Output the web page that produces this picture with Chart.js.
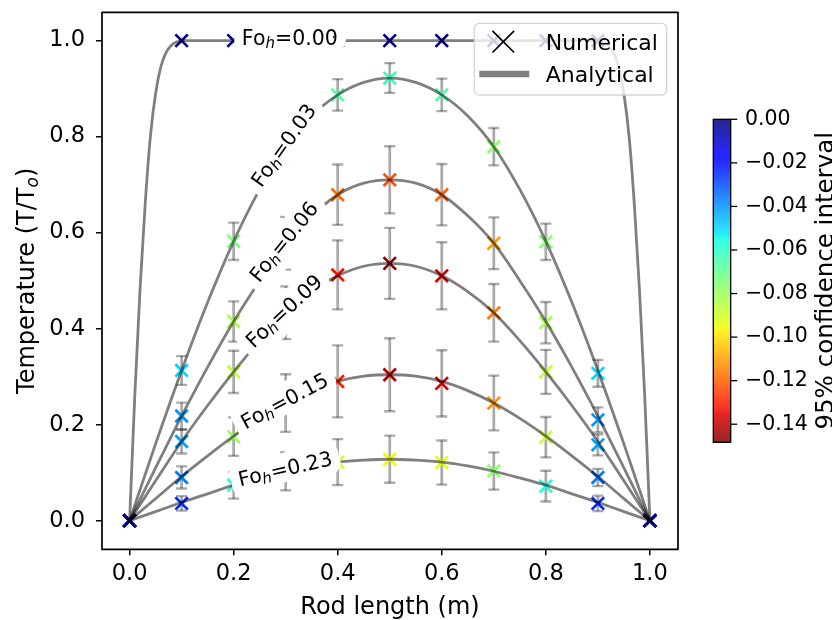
<!DOCTYPE html>
<html>
<head>
<meta charset="utf-8">
<script src="https://cdn.jsdelivr.net/npm/chart.js@4.4.0/dist/chart.umd.min.js"></script>
<style>
  html, body { margin: 0; padding: 0; background: #fff; }
  canvas { display: block; }
</style>
</head>
<body>
<canvas id="rodChart" width="832" height="620"></canvas>
<script>
// nodes along the rod where the solver reports a temperature
const nodeX = [0, 0.1, 0.2, 0.3, 0.4, 0.5, 0.6, 0.7, 0.8, 0.9, 1.0];

const fourierLabels = ['0.00', '0.03', '0.06', '0.09', '0.15', '0.23'];
const labelX = [0.308, 0.3, 0.3, 0.3, 0.3, 0.3];

// numerical solution (T/To) at each node
const numFo000 = [0, 1, 1, 1, 1, 1, 1, 1, 1, 1, 0];
const numFo003 = [0, 0.313, 0.582, 0.78, 0.887, 0.922, 0.887, 0.779, 0.581, 0.307, 0];
const numFo006 = [0, 0.218, 0.415, 0.578, 0.679, 0.71, 0.679, 0.578, 0.4125, 0.21, 0];
const numFo009 = [0, 0.165, 0.31, 0.433, 0.512, 0.536, 0.51, 0.433, 0.31, 0.158, 0];
const numFo015 = [0, 0.09, 0.175, 0.245, 0.29, 0.304, 0.286, 0.245, 0.174, 0.09, 0];
const numFo023 = [0, 0.036, 0.074, 0.103, 0.122, 0.128, 0.121, 0.1035, 0.072, 0.036, 0];

// half width of the error bars
const errFo000 = [0, 0, 0, 0, 0, 0, 0, 0, 0, 0, 0];
const errFo003 = [0, 0.03, 0.039, 0.04, 0.033, 0.031, 0.034, 0.039, 0.038, 0.028, 0];
const errFo006 = [0, 0.028, 0.042, 0.055, 0.063, 0.07, 0.064, 0.054, 0.043, 0.026, 0];
const errFo009 = [0, 0.025, 0.044, 0.055, 0.072, 0.074, 0.07, 0.06, 0.046, 0.022, 0];
const errFo015 = [0, 0.023, 0.04, 0.06, 0.075, 0.076, 0.069, 0.057, 0.042, 0.018, 0];
const errFo023 = [0, 0.015, 0.028, 0.04, 0.048, 0.049, 0.046, 0.039, 0.032, 0.016, 0];

// 95% confidence interval value used to colour each marker
const ciFo000 = [0, 0, 0, 0, 0, 0, 0, 0, 0, 0, 0];
const ciFo003 = [0, -0.049, -0.074, -0.075, -0.067, -0.062, -0.066, -0.077, -0.076, -0.05, 0];
const ciFo006 = [0, -0.04, -0.083, -0.11, -0.118, -0.123, -0.12, -0.11, -0.082, -0.04, 0];
const ciFo009 = [0, -0.042, -0.086, -0.115, -0.133, -0.147, -0.137, -0.116, -0.086, -0.042, 0];
const ciFo015 = [0, -0.037, -0.08, -0.11, -0.13, -0.142, -0.138, -0.112, -0.088, -0.036, 0];
const ciFo023 = [0, -0.025, -0.057, -0.077, -0.09, -0.095, -0.092, -0.077, -0.057, -0.025, 0];

// analytical solution
const curveXFine = [0, 0.01, 0.02, 0.03, 0.04, 0.05, 0.06, 0.07, 0.08, 0.09, 0.1,
  0.2, 0.3, 0.4, 0.5, 0.6, 0.7, 0.8, 0.9,
  0.91, 0.92, 0.93, 0.94, 0.95, 0.96, 0.97, 0.98, 0.99, 1.0];
const anaFo000 = [0, 0.26, 0.48, 0.66, 0.80, 0.89, 0.945, 0.975, 0.99, 0.997, 1,
  1, 1, 1, 1, 1, 1, 1, 1,
  0.997, 0.99, 0.975, 0.945, 0.89, 0.80, 0.66, 0.48, 0.26, 0];

const curveX = [0, 0.05, 0.1, 0.15, 0.2, 0.25, 0.3, 0.35, 0.4, 0.45, 0.5,
  0.55, 0.6, 0.65, 0.7, 0.75, 0.8, 0.85, 0.9, 0.95, 1.0];
const anaFo003 = [0, 0.16, 0.313, 0.455, 0.582, 0.69, 0.779, 0.843, 0.887, 0.913, 0.922,
  0.913, 0.887, 0.843, 0.779, 0.69, 0.582, 0.455, 0.313, 0.16, 0];
const anaFo006 = [0, 0.11, 0.218, 0.32, 0.415, 0.50, 0.578, 0.635, 0.679, 0.703, 0.71,
  0.703, 0.679, 0.635, 0.578, 0.50, 0.415, 0.32, 0.218, 0.11, 0];
const anaFo009 = [0, 0.083, 0.165, 0.24, 0.31, 0.375, 0.433, 0.477, 0.51, 0.53, 0.536,
  0.53, 0.51, 0.477, 0.433, 0.375, 0.31, 0.24, 0.165, 0.083, 0];
const anaFo015 = [0, 0.046, 0.092, 0.135, 0.176, 0.213, 0.245, 0.271, 0.29, 0.301, 0.304,
  0.301, 0.29, 0.271, 0.245, 0.213, 0.176, 0.135, 0.092, 0.046, 0];
const anaFo023 = [0, 0.019, 0.038, 0.056, 0.074, 0.089, 0.103, 0.114, 0.122, 0.126, 0.128,
  0.126, 0.122, 0.114, 0.103, 0.089, 0.074, 0.056, 0.038, 0.019, 0];

const xTicks = [0, 0.2, 0.4, 0.6, 0.8, 1.0];
const yTicks = [0, 0.2, 0.4, 0.6, 0.8, 1.0];
const ciTicks = [0, -0.02, -0.04, -0.06, -0.08, -0.10, -0.12, -0.14];
const ciMin = -0.1483;
const ciMax = 0;

const FONT = "'DejaVu Sans', 'Liberation Sans', sans-serif";

const numericalSeries = [
  { values: numFo000, errors: errFo000, ci: ciFo000 },
  { values: numFo003, errors: errFo003, ci: ciFo003 },
  { values: numFo006, errors: errFo006, ci: ciFo006 },
  { values: numFo009, errors: errFo009, ci: ciFo009 },
  { values: numFo015, errors: errFo015, ci: ciFo015 },
  { values: numFo023, errors: errFo023, ci: ciFo023 },
];

const analyticalSeries = [
  { xs: curveXFine, ys: anaFo000 },
  { xs: curveX, ys: anaFo003 },
  { xs: curveX, ys: anaFo006 },
  { xs: curveX, ys: anaFo009 },
  { xs: curveX, ys: anaFo015 },
  { xs: curveX, ys: anaFo023 },
];

// matplotlib "jet" segment data
const jetRed = [[0, 0], [0.35, 0], [0.66, 1], [0.89, 1], [1, 0.5]];
const jetGreen = [[0, 0], [0.125, 0], [0.375, 1], [0.64, 1], [0.91, 0], [1, 0]];
const jetBlue = [[0, 0.5], [0.11, 1], [0.34, 1], [0.65, 0], [1, 0]];

function segment(t, table) {
  for (let i = 1; i < table.length; i++) {
    if (t <= table[i][0]) {
      const [t0, v0] = table[i - 1];
      const [t1, v1] = table[i];
      return v0 + (v1 - v0) * (t - t0) / (t1 - t0);
    }
  }
  return table[table.length - 1][1];
}

function jet(t) {
  t = Math.min(1, Math.max(0, t));
  const r = Math.round(255 * segment(t, jetRed));
  const g = Math.round(255 * segment(t, jetGreen));
  const b = Math.round(255 * segment(t, jetBlue));
  return `rgb(${r},${g},${b})`;
}

// 0 is dark blue at the top of the bar, the lowest value dark red
const ciColor = v => jet((ciMax - v) / (ciMax - ciMin));

function valueAt(xs, ys, xq) {
  for (let i = 1; i < xs.length; i++) {
    if (xq <= xs[i]) {
      const f = (xq - xs[i - 1]) / (xs[i] - xs[i - 1]);
      return ys[i - 1] + f * (ys[i] - ys[i - 1]);
    }
  }
  return ys[ys.length - 1];
}

// draws runs of text (with sub-scripts) centred on 0, baseline at 0
function drawRuns(ctx, runs, outline) {
  const widths = runs.map(r => {
    ctx.font = `${r.italic ? 'italic ' : ''}${r.size}px ${FONT}`;
    return ctx.measureText(r.text).width;
  });
  const total = widths.reduce((a, b) => a + b, 0);
  const passes = outline ? ['stroke', 'fill'] : ['fill'];
  passes.forEach(pass => {
    let cx = -total / 2;
    runs.forEach((r, i) => {
      ctx.font = `${r.italic ? 'italic ' : ''}${r.size}px ${FONT}`;
      if (pass === 'stroke') {
        ctx.strokeText(r.text, cx, r.shift || 0);
      } else {
        ctx.fillText(r.text, cx, r.shift || 0);
      }
      cx += widths[i];
    });
  });
}

const errorBars = {
  id: 'errorBars',
  beforeDatasetsDraw(chart) {
    const { ctx, scales: { x, y } } = chart;
    ctx.save();
    ctx.strokeStyle = 'rgba(0,0,0,0.33)';
    numericalSeries.forEach(s => {
      s.values.forEach((v, i) => {
        const e = s.errors[i];
        if (!e) return;
        const px = x.getPixelForValue(nodeX[i]);
        const top = y.getPixelForValue(v + e);
        const bot = y.getPixelForValue(v - e);
        ctx.lineWidth = 2.8;
        ctx.beginPath();
        ctx.moveTo(px, top);
        ctx.lineTo(px, bot);
        ctx.stroke();
        ctx.lineWidth = 2.3;
        ctx.beginPath();
        ctx.moveTo(px - 5.5, top);
        ctx.lineTo(px + 5.5, top);
        ctx.moveTo(px - 5.5, bot);
        ctx.lineTo(px + 5.5, bot);
        ctx.stroke();
      });
    });
    ctx.restore();
  }
};

const curveLabels = {
  id: 'curveLabels',
  afterDatasetsDraw(chart) {
    const { ctx, scales: { x, y }, chartArea } = chart;
    ctx.save();
    ctx.textBaseline = 'alphabetic';
    ctx.lineJoin = 'round';
    ctx.lineWidth = 19;
    ctx.strokeStyle = '#ffffff';
    ctx.fillStyle = '#000000';
    analyticalSeries.forEach((c, k) => {
      const lx = labelX[k];
      const ax = x.getPixelForValue(lx);
      const ay = y.getPixelForValue(valueAt(c.xs, c.ys, lx));
      const x0 = x.getPixelForValue(lx - 0.05);
      const y0 = y.getPixelForValue(valueAt(c.xs, c.ys, lx - 0.05));
      const x1 = x.getPixelForValue(lx + 0.05);
      const y1 = y.getPixelForValue(valueAt(c.xs, c.ys, lx + 0.05));
      const angle = Math.atan2(y1 - y0, x1 - x0);
      ctx.save();
      ctx.translate(ax, ay);
      ctx.rotate(angle);
      ctx.translate(0, 4.5);
      drawRuns(ctx, [
        { text: 'Fo', size: 20.5 },
        { text: 'h', size: 15, italic: true, shift: 3 },
        { text: '=' + fourierLabels[k], size: 20.5 },
      ], true);
      ctx.restore();
    });
    // axes frame
    ctx.strokeStyle = '#000000';
    ctx.lineWidth = 1.7;
    ctx.strokeRect(chartArea.left, chartArea.top,
      chartArea.right - chartArea.left, chartArea.bottom - chartArea.top);
    ctx.restore();
  }
};

function roundedBox(ctx, x, y, w, h, r) {
  ctx.beginPath();
  ctx.moveTo(x + r, y);
  ctx.lineTo(x + w - r, y);
  ctx.arcTo(x + w, y, x + w, y + r, r);
  ctx.lineTo(x + w, y + h - r);
  ctx.arcTo(x + w, y + h, x + w - r, y + h, r);
  ctx.lineTo(x + r, y + h);
  ctx.arcTo(x, y + h, x, y + h - r, r);
  ctx.lineTo(x, y + r);
  ctx.arcTo(x, y, x + r, y, r);
  ctx.closePath();
}

const decorations = {
  id: 'decorations',
  afterDraw(chart) {
    const { ctx, chartArea } = chart;
    ctx.save();
    ctx.fillStyle = '#000000';
    ctx.textBaseline = 'alphabetic';

    // axis titles
    ctx.textAlign = 'left';
    ctx.save();
    ctx.translate((chartArea.left + chartArea.right) / 2, 614);
    drawRuns(ctx, [{ text: 'Rod length (m)', size: 24 }], false);
    ctx.restore();

    ctx.save();
    ctx.translate(33.6, (chartArea.top + chartArea.bottom) / 2);
    ctx.rotate(-Math.PI / 2);
    drawRuns(ctx, [
      { text: 'Temperature (T/T', size: 24 },
      { text: 'o', size: 17, italic: true, shift: 4 },
      { text: ')', size: 24 },
    ], false);
    ctx.restore();

    // legend
    const lx = 474.3, ly = 23.3, lw = 192.4, lh = 71.7;
    roundedBox(ctx, lx, ly, lw, lh, 5);
    ctx.fillStyle = 'rgba(255,255,255,0.8)';
    ctx.fill();
    ctx.strokeStyle = 'rgba(204,204,204,0.8)';
    ctx.lineWidth = 1.3;
    ctx.stroke();

    ctx.strokeStyle = '#000000';
    ctx.lineWidth = 1.7;
    ctx.beginPath();
    ctx.moveTo(503.3 - 10.8, 41.7 - 10.8);
    ctx.lineTo(503.3 + 10.8, 41.7 + 10.8);
    ctx.moveTo(503.3 - 10.8, 41.7 + 10.8);
    ctx.lineTo(503.3 + 10.8, 41.7 - 10.8);
    ctx.stroke();

    ctx.strokeStyle = 'rgb(128,128,128)';
    ctx.lineWidth = 6.5;
    ctx.beginPath();
    ctx.moveTo(479.3, 74);
    ctx.lineTo(529.3, 74);
    ctx.stroke();

    ctx.fillStyle = '#000000';
    ctx.font = `22px ${FONT}`;
    ctx.textAlign = 'left';
    ctx.fillText('Numerical', 545.7, 49.7);
    ctx.fillText('Analytical', 545.7, 82);

    // colour bar
    const bx = 713.3, bw = 17.4, by = 119.3, bh = 323;
    for (let i = 0; i < bh; i++) {
      const v = ciMax - (i + 0.5) / bh * (ciMax - ciMin);
      ctx.fillStyle = ciColor(v);
      ctx.fillRect(bx, by + i, bw, 1.2);
    }
    ctx.strokeStyle = '#000000';
    ctx.lineWidth = 1.3;
    ctx.strokeRect(bx, by, bw, bh);

    ctx.fillStyle = '#000000';
    ctx.font = `20.5px ${FONT}`;
    ctx.textBaseline = 'middle';
    ciTicks.forEach(v => {
      const ty = by + (ciMax - v) / (ciMax - ciMin) * bh;
      ctx.beginPath();
      ctx.moveTo(bx + bw, ty);
      ctx.lineTo(bx + bw + 6.5, ty);
      ctx.stroke();
      const txt = v === 0 ? '0.00' : '\u2212' + Math.abs(v).toFixed(2);
      ctx.fillText(txt, 745, ty);
    });

    ctx.textBaseline = 'alphabetic';
    ctx.save();
    ctx.translate(833, by + bh / 2);
    ctx.rotate(-Math.PI / 2);
    drawRuns(ctx, [{ text: '95% confidence interval', size: 24.5 }], false);
    ctx.restore();

    ctx.restore();
  }
};

const lineDatasets = analyticalSeries.map((c, k) => ({
  label: 'Analytical Fo ' + fourierLabels[k],
  data: c.xs.map((xv, i) => ({ x: xv, y: c.ys[i] })),
  showLine: true,
  pointRadius: 0,
  borderColor: 'rgba(0,0,0,0.5)',
  borderWidth: 2.8,
  cubicInterpolationMode: 'monotone',
  fill: false,
  order: 0,
}));

const markerDatasets = numericalSeries.map((s, k) => ({
  label: 'Numerical Fo ' + fourierLabels[k],
  data: nodeX.map((xv, i) => ({ x: xv, y: s.values[i] })),
  showLine: false,
  pointStyle: 'crossRot',
  pointRadius: 8.8,
  pointBorderWidth: 2.7,
  pointBorderColor: s.ci.map(ciColor),
  pointBackgroundColor: s.ci.map(ciColor),
  order: 1,
}));

const tickFont = { family: FONT, size: 22.5 };

// fixed axis boxes, no extra room for the end labels
const fitX = s => {
  s.height = 70.7;
  s.paddingLeft = 0;
  s.paddingRight = 0;
};
const fitY = s => {
  s.width = 102;
  s.paddingTop = 0;
  s.paddingBottom = 0;
};

new Chart(document.getElementById('rodChart').getContext('2d'), {
  type: 'scatter',
  data: { datasets: [...lineDatasets, ...markerDatasets] },
  options: {
    responsive: false,
    devicePixelRatio: 1,
    animation: false,
    events: [],
    layout: { autoPadding: false, padding: { left: 0, right: 154, top: 12.3, bottom: 0 } },
    plugins: {
      legend: { display: false },
      tooltip: { enabled: false },
    },
    scales: {
      x: {
        type: 'linear',
        min: -0.053,
        max: 1.054,
        afterBuildTicks: s => { s.ticks = xTicks.map(v => ({ value: v })); },
        afterFit: fitX,
        border: { display: false },
        grid: { drawOnChartArea: false, drawTicks: true, tickLength: 6, color: '#000', lineWidth: 1.5 },
        ticks: { color: '#000', font: tickFont, padding: 5, maxRotation: 0, callback: v => v.toFixed(1) },
      },
      y: {
        type: 'linear',
        min: -0.0596,
        max: 1.059,
        afterBuildTicks: s => { s.ticks = yTicks.map(v => ({ value: v })); },
        afterFit: fitY,
        border: { display: false },
        grid: { drawOnChartArea: false, drawTicks: true, tickLength: 6, color: '#000', lineWidth: 1.5 },
        ticks: { color: '#000', font: tickFont, padding: 11, callback: v => v.toFixed(1) },
      },
    },
  },
  plugins: [errorBars, curveLabels, decorations],
});
</script>
</body>
</html>
